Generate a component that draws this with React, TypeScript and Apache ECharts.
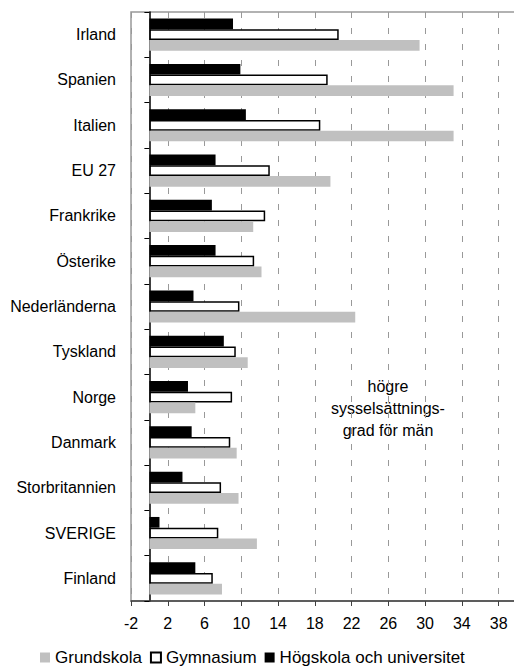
import React, { useEffect, useRef } from "react";
import * as echarts from "echarts";

// Categories listed bottom-to-top (ECharts category y axis starts at the bottom)
const categories = [
  "Finland",
  "SVERIGE",
  "Storbritannien",
  "Danmark",
  "Norge",
  "Tyskland",
  "Nederländerna",
  "Österike",
  "Frankrike",
  "EU 27",
  "Italien",
  "Spanien",
  "Irland",
];

const grundskola = [7.9, 11.7, 9.7, 9.5, 5.0, 10.7, 22.4, 12.2, 11.3, 19.7, 33.1, 33.1, 29.4];
const gymnasium = [6.9, 7.5, 7.8, 8.8, 9.0, 9.4, 9.8, 11.4, 12.6, 13.1, 18.6, 19.4, 20.6];
const hogskola = [5.0, 1.1, 3.6, 4.6, 4.2, 8.1, 4.8, 7.2, 6.8, 7.2, 10.5, 9.9, 9.1];

const legendNames = ["Grundskola", "Gymnasium", "Högskola och universitet"];

const xMin = -2;
const xMax = 40;
const xInterval = 4;

const annotationText = "högre\nsysselsättnings-\ngrad för män";

const FONT = "'Liberation Sans', Arial, sans-serif";

export default function App() {
  const ref = useRef<HTMLDivElement>(null);

  useEffect(() => {
    if (!ref.current) return;
    const chart = echarts.init(ref.current, undefined, { renderer: "svg" });
    chart.setOption({
      animation: false,
      backgroundColor: "#ffffff",
      textStyle: { fontFamily: FONT },
      grid: {
        left: 131,
        right: -3,
        top: 12,
        bottom: 65,
        show: true,
        borderColor: "#999999",
        borderWidth: 1.5,
        backgroundColor: "transparent",
        outerBoundsMode: "none",
        containLabel: false,
      },
      legend: {
        left: 40,
        top: 649,
        itemWidth: 10,
        itemHeight: 10,
        itemGap: 8,
        icon: "rect",
        padding: 0,
        textStyle: { fontSize: 17, color: "#000", fontFamily: FONT },
        data: legendNames,
      },
      xAxis: {
        type: "value",
        min: xMin,
        max: xMax,
        interval: xInterval,
        axisLine: { show: true, onZero: false, lineStyle: { color: "#404040", width: 1.5 } },
        axisTick: { show: true, length: 5, lineStyle: { color: "#404040" } },
        axisLabel: { fontSize: 16, color: "#000", margin: 14, showMaxLabel: false, fontFamily: FONT },
        splitLine: { show: true, lineStyle: { color: "#999999", width: 1, type: [6, 10] } },
      },
      yAxis: {
        type: "category",
        data: categories,
        axisLine: { show: true, onZero: true, lineStyle: { color: "#000", width: 1.5 } },
        axisTick: { show: true, length: 5, lineStyle: { color: "#000" } },
        axisLabel: { margin: 15, fontSize: 16, color: "#000", fontFamily: FONT },
        splitLine: { show: false },
      },
      series: [
        {
          name: legendNames[2],
          type: "bar",
          data: hogskola,
          barGap: "0%",
          barCategoryGap: "29%",
          itemStyle: { color: "#000000" },
        },
        {
          name: legendNames[1],
          type: "bar",
          data: gymnasium,
          barGap: "0%",
          barCategoryGap: "29%",
          itemStyle: { color: "#ffffff", borderColor: "#000", borderWidth: 1.5 },
        },
        {
          name: legendNames[0],
          type: "bar",
          data: grundskola,
          barGap: "0%",
          barCategoryGap: "29%",
          itemStyle: { color: "#c0c0c0" },
        },
      ],
      graphic: [
        {
          type: "text",
          x: 388,
          y: 408,
          style: {
            text: annotationText,
            font: `16px ${FONT}`,
            fill: "#000",
            textAlign: "center",
            textVerticalAlign: "middle",
            lineHeight: 22,
          },
        },
      ],
    });
    return () => chart.dispose();
  }, []);

  return (
    <div
      ref={ref}
      style={{ position: "fixed", left: 0, top: 0, width: 514, height: 666 }}
    />
  );
}
